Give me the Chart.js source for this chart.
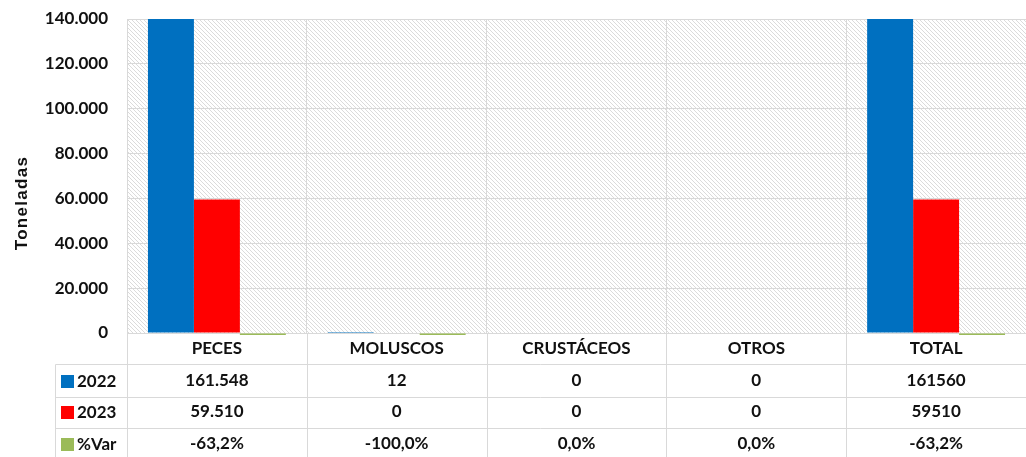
<!DOCTYPE html>
<html>
<head>
<meta charset="utf-8">
<script src="https://cdn.jsdelivr.net/npm/chart.js@4"></script>
<style>
  body { margin: 0; background: #fff; }
  #wrap { width: 1026px; height: 457px; }
</style>
</head>
<body>
<div id="wrap"><canvas id="chart"></canvas></div>
<script>
// data
const categories = ['PECES', 'MOLUSCOS', 'CRUSTÁCEOS', 'OTROS', 'TOTAL'];
const values2022 = [161548, 12, 0, 0, 161560];
const values2023 = [59510, 0, 0, 0, 59510];
const varPct = [-63.2, -100.0, 0.0, 0.0, -63.2];
const yTicks = [0, 20000, 40000, 60000, 80000, 100000, 120000, 140000];

const BLUE = '#0070C0';
const RED = '#FF0000';
const GREEN = '#9BBB59';
const GRID = '#d9d9d9';
const FONT = 'Lato, "Open Sans", sans-serif';

function withDots(v) {
  return String(v).replace(/\B(?=(\d{3})+(?!\d))/g, '.');
}
// TOTAL column is shown without thousands separator in the original
function cellNum(v, i) {
  return i === categories.length - 1 ? String(v) : withDots(v);
}
function cellPct(v) {
  return v.toFixed(1).replace('.', ',') + '%';
}

// hatched background for plot area
function makeHatch() {
  const c = document.createElement('canvas');
  c.width = 4; c.height = 4;
  const g = c.getContext('2d');
  g.fillStyle = '#fff';
  g.fillRect(0, 0, 4, 4);
  g.strokeStyle = 'rgba(0,0,0,0.14)';
  g.lineWidth = 1;
  g.beginPath();
  g.moveTo(-1, -1); g.lineTo(5, 5);
  g.moveTo(-1, 3); g.lineTo(1, 5);
  g.moveTo(3, -1); g.lineTo(5, 1);
  g.stroke();
  return c;
}

const hatchPlugin = {
  id: 'hatch',
  beforeDraw(chart) {
    const { ctx, chartArea: a } = chart;
    ctx.save();
    ctx.fillStyle = ctx.createPattern(makeHatch(), 'repeat');
    ctx.fillRect(a.left, a.top, a.right - a.left, a.bottom - a.top);
    ctx.restore();
  }
};

// data table under the chart + y title
const tablePlugin = {
  id: 'dataTable',
  afterDraw(chart) {
    const { ctx, chartArea: a } = chart;
    const x = chart.scales.x;
    const half = (x.getPixelForValue(1) - x.getPixelForValue(0)) / 2;
    const rows = [364.5, 397.5, 428.5];
    const tableLeft = 55.5;
    const bottom = chart.height;

    ctx.save();
    ctx.strokeStyle = GRID;
    ctx.lineWidth = 1;
    ctx.beginPath();
    rows.forEach(y => { ctx.moveTo(tableLeft, y); ctx.lineTo(chart.width, y); });
    ctx.moveTo(tableLeft, rows[0]); ctx.lineTo(tableLeft, bottom);
    ctx.moveTo(Math.round(a.left) + 0.5, a.bottom); ctx.lineTo(Math.round(a.left) + 0.5, bottom);
    for (let i = 1; i < categories.length; i++) {
      const bx = Math.round(x.getPixelForValue(i) - half) + 0.5;
      ctx.moveTo(bx, a.bottom); ctx.lineTo(bx, bottom);
    }
    ctx.stroke();

    ctx.fillStyle = '#111';
    ctx.font = 'bold 17px ' + FONT;
    ctx.textAlign = 'center';
    ctx.textBaseline = 'middle';
    const rowY = [349, 381, 412, 444];
    categories.forEach((c, i) => {
      const cx = x.getPixelForValue(i);
      ctx.fillText(c, cx, rowY[0]);
      ctx.fillText(cellNum(values2022[i], i), cx, rowY[1]);
      ctx.fillText(cellNum(values2023[i], i), cx, rowY[2]);
      ctx.fillText(cellPct(varPct[i]), cx, rowY[3]);
    });

    // legend keys
    const keys = [[BLUE, '2022'], [RED, '2023'], [GREEN, '%Var']];
    ctx.textAlign = 'left';
    keys.forEach((k, j) => {
      ctx.fillStyle = k[0];
      ctx.fillRect(61, rowY[j + 1] - 6, 13, 13);
      ctx.fillStyle = '#111';
      ctx.fillText(k[1], 77, rowY[j + 1] + 1);
    });

    // y title
    ctx.font = 'bold 17px "Liberation Sans", Arial, sans-serif';
    ctx.letterSpacing = '1.3px';
    ctx.translate(22, 203);
    ctx.rotate(-Math.PI / 2);
    ctx.textAlign = 'center';
    ctx.fillText('Toneladas', 0, 0);
    ctx.restore();
  }
};

const ctx = document.getElementById('chart').getContext('2d');

new Chart(ctx, {
  type: 'bar',
  data: {
    labels: categories,
    datasets: [
      { label: '2022', data: values2022, backgroundColor: BLUE },
      { label: '2023', data: values2023, backgroundColor: RED },
      // zero changes are not drawn in the original, only the tiny negative ones
      {
        label: '%Var',
        data: varPct.map(v => v === 0 ? null : v),
        backgroundColor: GREEN,
        minBarLength: 2,
        clip: { left: 0, top: 0, right: 0, bottom: 3 }
      }
    ]
  },
  options: {
    responsive: true,
    maintainAspectRatio: false,
    animation: false,
    layout: { padding: { top: 19, right: 0, left: 0, bottom: 0 }, autoPadding: false },
    datasets: {
      bar: { categoryPercentage: 0.767, barPercentage: 1.0 }
    },
    plugins: {
      legend: { display: false },
      tooltip: { enabled: false }
    },
    scales: {
      x: {
        grid: { color: GRID, drawTicks: false, offset: true },
        border: { color: GRID },
        ticks: { display: false },
        afterFit: s => { s.height = 124; s.paddingLeft = 0; s.paddingRight = 0; }
      },
      y: {
        min: 0,
        max: 140000,
        afterBuildTicks: s => { s.ticks = yTicks.map(v => ({ value: v })); },
        grid: { color: GRID, drawTicks: false },
        border: { color: GRID },
        ticks: {
          padding: 19,
          color: '#111',
          font: { family: FONT, size: 17, weight: 'bold' },
          callback: v => withDots(v)
        },
        afterFit: s => { s.width = 127; s.paddingTop = 0; s.paddingBottom = 0; }
      }
    }
  },
  plugins: [hatchPlugin, tablePlugin]
});
</script>
</body>
</html>
